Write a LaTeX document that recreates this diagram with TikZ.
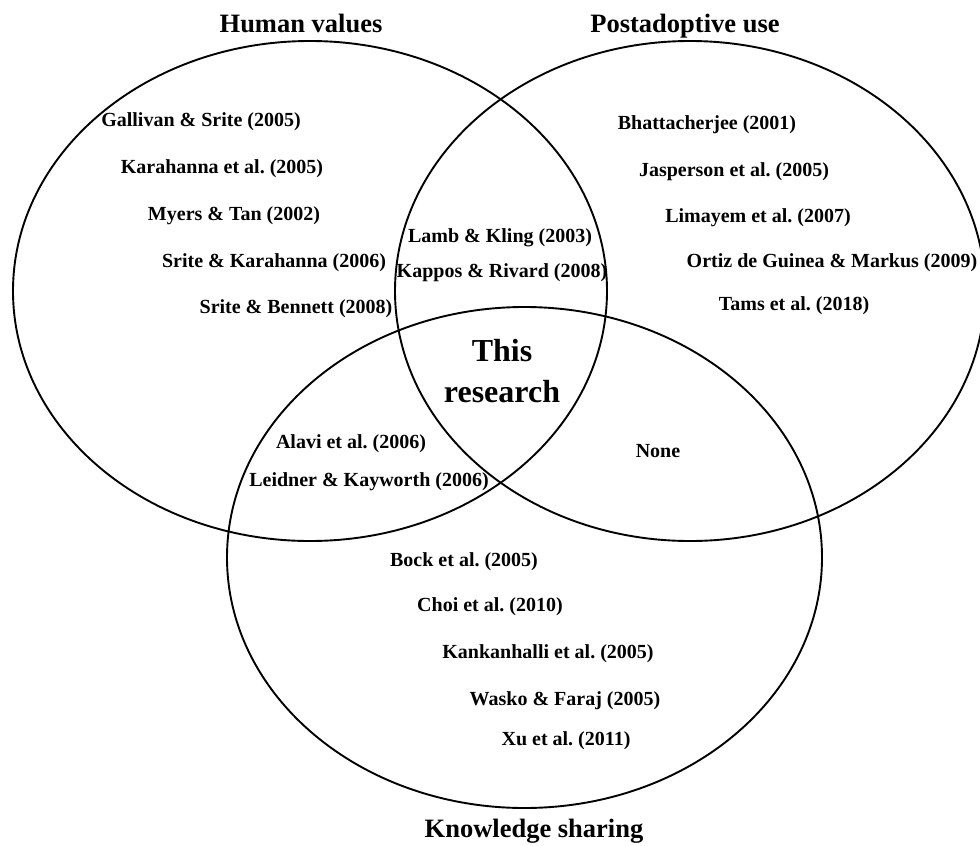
\documentclass[tikz,border=0pt]{standalone}
\usepackage{fontspec}
\setmainfont{Liberation Serif}
\frenchspacing
\begin{document}
\begin{tikzpicture}[x=1pt,y=-1pt]
       \tikzstyle{setline}=[line width=1.9pt]
       \tikzstyle{settitle}=[font=\fontsize{26.5}{30}\selectfont\bfseries, anchor=base, inner sep=0pt]
       \tikzstyle{study}=[font=\fontsize{20}{24}\selectfont\bfseries, inner sep=0pt]
       \tikzstyle{core}=[font=\fontsize{32}{41}\selectfont\bfseries, align=center, inner sep=0pt]
       \useasboundingbox (0,0) rectangle (980,846);
       % the three sets
       \draw[setline] (310,291) ellipse [x radius=297pt, y radius=250pt];
       \draw[setline] (690,291) ellipse [x radius=295pt, y radius=250pt];
       \draw[setline] (524.5,557.5) ellipse [x radius=297.5pt, y radius=250.5pt];
       \node[settitle] (values) at (301,32) {Human values};
       \node[settitle] (postuse) at (685,32) {Postadoptive use};
       \node[settitle] (sharing) at (534,837) {Knowledge sharing};
       % human values only
       \node[study] (gallivan) at (201,122) {Gallivan \& Srite (2005)};
       \node[study] (karahanna) at (222,169) {Karahanna et al. (2005)};
       \node[study] (myers) at (234,216) {Myers \& Tan (2002)};
       \node[study] (sritek) at (274,263) {Srite \& Karahanna (2006)};
       \node[study] (briteb) at (296,309) {Srite \& Bennett (2008)};
       % values and use
       \node[study] (lamb) at (500,238) {Lamb \& Kling (2003)};
       \node[study] (kappos) at (502,273) {Kappos \& Rivard (2008)};
       % postadoptive use only
       \node[study] (bhatta) at (707,125) {Bhattacherjee (2001)};
       \node[study] (jasperson) at (734,172) {Jasperson et al. (2005)};
       \node[study] (limayem) at (758,218) {Limayem et al. (2007)};
       \node[study] (ortiz) at (832,263) {Ortiz de Guinea \& Markus (2009)};
       \node[study] (tams) at (794,306) {Tams et al. (2018)};
       % all three
       \node[core] (this) at (502,371) {This\\research};
       % values and sharing
       \node[study] (alavi) at (351,444) {Alavi et al. (2006)};
       \node[study] (leidner) at (369,482) {Leidner \& Kayworth (2006)};
       % use and sharing
       \node[study] (none) at (658,451) {None};
       % knowledge sharing only
       \node[study] (bock) at (464,562) {Bock et al. (2005)};
       \node[study] (choi) at (490,607) {Choi et al. (2010)};
       \node[study] (kankan) at (548,654) {Kankanhalli et al. (2005)};
       \node[study] (wasko) at (565,701) {Wasko \& Faraj (2005)};
       \node[study] (xu) at (566,741) {Xu et al. (2011)};
      \end{tikzpicture}
\end{document}
